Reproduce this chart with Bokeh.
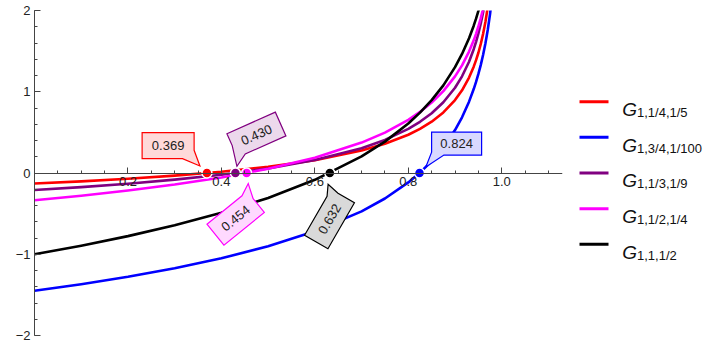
import math
from bokeh.plotting import figure
from bokeh.models import Range1d, FixedTicker
from bokeh.layouts import row
from bokeh.embed import file_html
from bokeh.resources import INLINE
from bokeh.core.properties import value

# ---------------- data ----------------
red_x = [0, 0.1, 0.2, 0.3, 0.4, 0.5, 0.6, 0.7, 0.75, 0.8, 0.825, 0.85, 0.875, 0.9, 0.915, 0.93, 0.94, 0.945, 0.95, 0.955, 0.96, 0.965, 0.97, 0.975]
red_y = [-0.130, -0.103, -0.070, -0.032, 0.016, 0.077, 0.158, 0.276, 0.359, 0.471, 0.543, 0.632, 0.745, 0.897, 1.018, 1.175, 1.309, 1.389, 1.480, 1.586, 1.710, 1.859, 2.040, 2.280]

blue_x = [0, 0.1, 0.2, 0.3, 0.4, 0.5, 0.6, 0.7, 0.75, 0.8, 0.825, 0.85, 0.875, 0.9, 0.915, 0.93, 0.94, 0.945, 0.95, 0.955, 0.96, 0.965, 0.97, 0.975, 0.98]
blue_y = [-1.450, -1.369, -1.278, -1.173, -1.050, -0.902, -0.717, -0.472, -0.314, -0.116, 0.005, 0.146, 0.316, 0.529, 0.686, 0.878, 1.033, 1.121, 1.219, 1.328, 1.452, 1.594, 1.760, 1.959, 2.208]

purple_x = [0, 0.1, 0.2, 0.3, 0.4, 0.5, 0.6, 0.7, 0.75, 0.8, 0.825, 0.85, 0.875, 0.9, 0.915, 0.93, 0.94, 0.945, 0.95, 0.955, 0.96, 0.965, 0.97]
purple_y = [-0.210, -0.174, -0.132, -0.082, -0.021, 0.056, 0.159, 0.305, 0.407, 0.543, 0.630, 0.736, 0.871, 1.049, 1.190, 1.370, 1.524, 1.615, 1.718, 1.837, 1.976, 2.141, 2.343]

magenta_x = [0, 0.1, 0.2, 0.3, 0.4, 0.5, 0.6, 0.7, 0.75, 0.8, 0.825, 0.85, 0.875, 0.9, 0.915, 0.93, 0.94, 0.945, 0.95, 0.955, 0.96]
magenta_y = [-0.335, -0.280, -0.216, -0.142, -0.055, 0.052, 0.189, 0.374, 0.497, 0.654, 0.752, 0.867, 1.008, 1.189, 1.325, 1.494, 1.633, 1.713, 1.803, 1.904, 2.019]

black_x = [0, 0.1, 0.2, 0.3, 0.4, 0.5, 0.6, 0.7, 0.75, 0.8, 0.825, 0.85, 0.875, 0.9, 0.915, 0.93, 0.94, 0.945, 0.95, 0.955, 0.96]
black_y = [-1.000, -0.895, -0.777, -0.643, -0.489, -0.307, -0.084, 0.204, 0.386, 0.609, 0.743, 0.897, 1.079, 1.303, 1.465, 1.659, 1.813, 1.900, 1.996, 2.101, 2.219]

roots = [0.369, 0.824, 0.430, 0.454, 0.632]
subscripts = ["1,1/4,1/5", "1,3/4,1/100", "1,1/3,1/9", "1,1/2,1/4", "1,1,1/2"]

xticks = [0.2, 0.4, 0.6, 0.8, 1.0]
xtick_labels = ["0.2", "0.4", "0.6", "0.8", "1.0"]
yticks = [-2, -1, 0, 1, 2]
ytick_labels = ["\u22122", "\u22121", "0", "1", "2"]

# ---------------- styles ----------------
colors = ["#ff0000", "#0000ff", "#800080", "#ff00ff", "#000000"]
fills = ["#ffd9d9", "#d9d9ff", "#ecd9ec", "#ffd9ff", "#d9d9d9"]
# callout box: centre offset (px, screen y down), angle deg, w, h, pointer corner, d1, d2, tip offset (px)
callouts = [
    (-38.8, -27.4, 0, 52, 26, "BR", 8.3, 11.6, (-7.0, -7.0)),
    (37.1, -29.4, 0, 50, 23, "BL", 12.3, 3.0, (6.3, -6.0)),
    (21.0, -38.2, 24, 53, 26, "BL", 8.5, 13.0, (1.5, -6.7)),
    (-11.0, 45.3, 39, 52, 27, "TR", 6.9, 9.2, (1.6, 10.6)),
    (-0.3, 46.0, 60, 53, 27, "TR", 8.0, 8.0, (-1.7, 11.3)),
]

FONT = "Liberation Sans"
XMIN, XMAX, YMIN, YMAX = 0.0, 1.13, -2.0, 2.0
W, H = 564, 342
BL_, BR_, BT_, BB_ = 34, 2, 10, 7
FRAME_W = W - BL_ - BR_
FRAME_H = H - BT_ - BB_
SX = FRAME_W / (XMAX - XMIN)
SY = FRAME_H / (YMAX - YMIN)

p = figure(width=W, height=H, x_range=Range1d(XMIN, XMAX), y_range=Range1d(YMIN, YMAX),
           output_backend="svg", toolbar_location=None,
           min_border_left=BL_, min_border_right=BR_, min_border_top=BT_, min_border_bottom=BB_,
           outline_line_color=None, background_fill_color="white", border_fill_color="white")
p.grid.visible = False

xminor = [round(0.05 * k, 2) for k in range(1, 23)]
yminor = [round(-2 + 0.2 * k, 1) for k in range(0, 21)]
p.xaxis.fixed_location = 0
p.xaxis.ticker = FixedTicker(ticks=xticks, minor_ticks=xminor)
p.xaxis.major_label_overrides = {float(t): l for t, l in zip(xticks, xtick_labels)}
p.yaxis.ticker = FixedTicker(ticks=yticks, minor_ticks=yminor)
p.yaxis.major_label_overrides = {t: l for t, l in zip(yticks, ytick_labels)}
for ax in (p.xaxis, p.yaxis):
    ax.axis_line_color = "#444444"
    ax.major_tick_line_color = "#444444"
    ax.minor_tick_line_color = "#444444"
    ax.major_tick_in = 6
    ax.major_tick_out = 0
    ax.minor_tick_in = 3
    ax.minor_tick_out = 0
    ax.major_label_text_font = FONT
    ax.major_label_text_font_size = "13px"
    ax.major_label_text_color = "#222222"
    ax.major_label_standoff = 4

series = [(red_x, red_y), (blue_x, blue_y), (purple_x, purple_y), (magenta_x, magenta_y), (black_x, black_y)]
for (xs, ys), col in zip(series, colors):
    p.line(xs, ys, line_color=col, line_width=2.6, line_join="round")


def callout_shape(root, cx, cy, ang, w, h, corner, d1, d2, tip):
    t = math.radians(ang)
    c, s = math.cos(t), math.sin(t)
    corners = [(-w / 2, -h / 2), (w / 2, -h / 2), (w / 2, h / 2), (-w / 2, h / 2)]
    i = {"TL": 0, "TR": 1, "BR": 2, "BL": 3}[corner]
    P, C, N = corners[i - 1], corners[i], corners[(i + 1) % 4]

    def toward(a, b, d):
        dx, dy = a[0] - b[0], a[1] - b[1]
        L = math.hypot(dx, dy)
        return (b[0] + dx * d / L, b[1] + dy * d / L)

    pts = corners[:i] + [toward(P, C, d1), None, toward(N, C, d2)] + corners[i + 1:]
    scr = []
    for q in pts:
        if q is None:
            scr.append(tip)
        else:
            u, v = q
            scr.append((cx + u * c + v * s, cy - u * s + v * c))
    xs = [root + dx / SX for dx, dy in scr]
    ys = [-dy / SY for dx, dy in scr]
    return xs, ys, root + cx / SX, -cy / SY, t


for r, col, fc, co in zip(roots, colors, fills, callouts):
    xs, ys, tx, ty, ang = callout_shape(r, *co)
    p.patch(xs, ys, fill_color=fc, line_color=col, line_width=1.2, line_join="miter")
    p.text([tx], [ty], text=[f"{r:.3f}"], angle=ang, text_align="center", text_baseline="middle",
           text_font=value(FONT), text_font_size="13px", text_color="#222222")

p.scatter(roots, [0] * len(roots), size=10, fill_color=colors, line_color="white", line_width=1.5)

# ---------------- legend panel ----------------
LW = 704 - W
leg = figure(width=LW, height=H, x_range=Range1d(0, LW), y_range=Range1d(H, 0),
             output_backend="svg", toolbar_location=None, min_border=0,
             x_axis_location=None, y_axis_location=None, outline_line_color=None)
leg.grid.visible = False
row0, step = 96.0, 37.5
for k, (col, sub) in enumerate(zip(colors, subscripts)):
    yk = row0 + k * step
    leg.line([15, 44], [yk, yk], line_color=col, line_width=3)
    leg.text([57.7], [yk + 8.3], text=["G"], text_font=value(FONT), text_font_style="italic",
             text_font_size="19px", text_baseline="alphabetic", text_color="#111111")
    leg.text([72.5], [yk + 11.3], text=[sub], text_font=value(FONT),
             text_font_size="13px", text_baseline="alphabetic", text_color="#111111")

layout = row(p, leg)
open("out.html", "w").write(file_html(layout, INLINE))
